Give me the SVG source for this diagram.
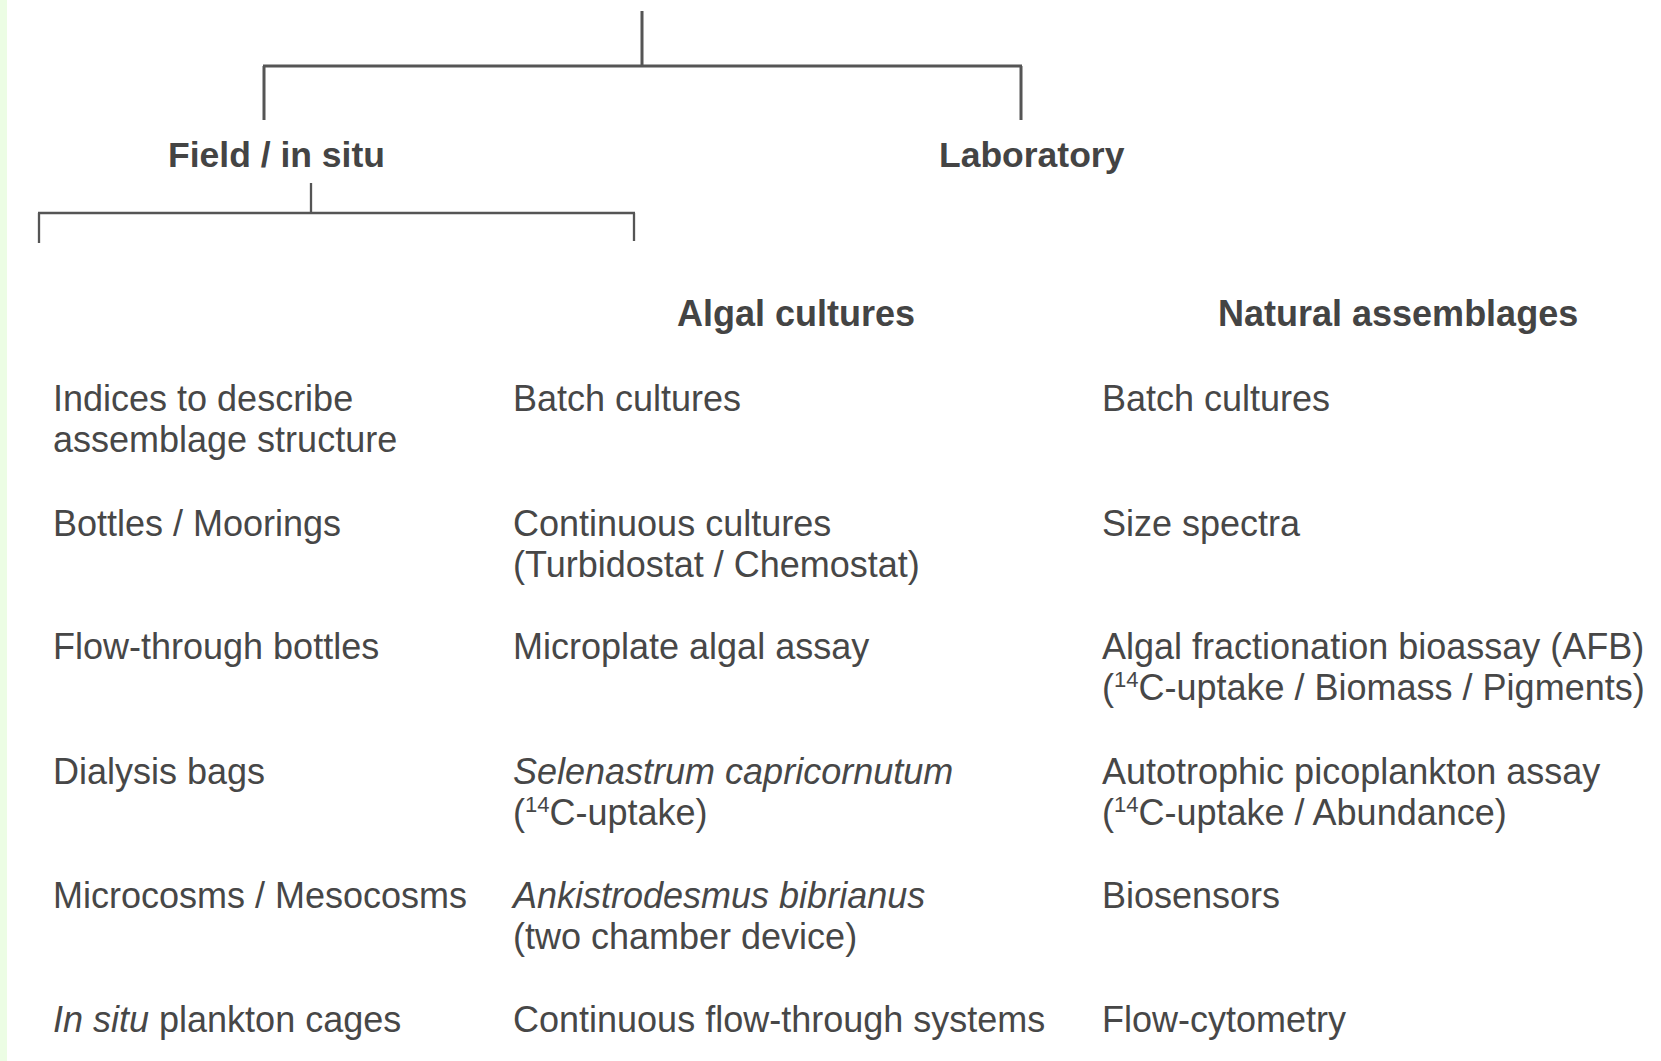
<svg xmlns="http://www.w3.org/2000/svg" width="1661" height="1061" viewBox="0 0 1661 1061">
<style>
.hd{font-family:"Liberation Sans",Arial,sans-serif;font-weight:bold;font-size:35.5px;fill:#444}
.hd2{font-size:36px}
.tx{font-family:"Liberation Sans",Arial,sans-serif;font-size:36px;fill:#474747}
.it{font-style:italic}
.sup{font-size:22px}
.ln{stroke:#555;fill:none;stroke-linecap:butt}
</style>
<rect x="0" y="0" width="1661" height="1061" fill="#ffffff"/>
<rect x="0" y="0" width="7" height="1061" fill="#ecfde4"/>
<g id="connectors">
<path class="ln" stroke-width="3" d="M642 11V66M263 66H1022M264 66V120M1021 66V120"/>
<path class="ln" stroke-width="2.3" d="M311 183V213M38 213H635M39 213V243M634 213V241"/>
</g>
<g id="field"><text class="hd" x="168" y="167">Field / in situ</text></g>
<g id="laboratory"><text class="hd" x="939" y="167">Laboratory</text></g>
<g id="algal-cultures"><text class="hd hd2" x="677" y="326">Algal cultures</text></g>
<g id="natural-assemblages"><text class="hd hd2" x="1218" y="326">Natural assemblages</text></g>
<g id="field-items" class="tx">
<text x="53" y="411">Indices to describe</text>
<text x="53" y="452">assemblage structure</text>
<text x="53" y="536">Bottles / Moorings</text>
<text x="53" y="659">Flow-through bottles</text>
<text x="53" y="784">Dialysis bags</text>
<text x="53" y="908">Microcosms / Mesocosms</text>
<text x="53" y="1032"><tspan class="it">In situ</tspan> plankton cages</text>
</g>
<g id="algal-items" class="tx">
<text x="513" y="411">Batch cultures</text>
<text x="513" y="536">Continuous cultures</text>
<text x="513" y="577">(Turbidostat / Chemostat)</text>
<text x="513" y="659">Microplate algal assay</text>
<text x="513" y="784" class="it">Selenastrum capricornutum</text>
<text x="513" y="825">(<tspan class="sup" dy="-13">14</tspan><tspan dy="13">C-uptake)</tspan></text>
<text x="513" y="908" class="it">Ankistrodesmus bibrianus</text>
<text x="513" y="949">(two chamber device)</text>
<text x="513" y="1032">Continuous flow-through systems</text>
</g>
<g id="natural-items" class="tx">
<text x="1102" y="411">Batch cultures</text>
<text x="1102" y="536">Size spectra</text>
<text x="1102" y="659">Algal fractionation bioassay (AFB)</text>
<text x="1102" y="700">(<tspan class="sup" dy="-13">14</tspan><tspan dy="13">C-uptake / Biomass / Pigments)</tspan></text>
<text x="1102" y="784">Autotrophic picoplankton assay</text>
<text x="1102" y="825">(<tspan class="sup" dy="-13">14</tspan><tspan dy="13">C-uptake / Abundance)</tspan></text>
<text x="1102" y="908">Biosensors</text>
<text x="1102" y="1032">Flow-cytometry</text>
</g>
</svg>
